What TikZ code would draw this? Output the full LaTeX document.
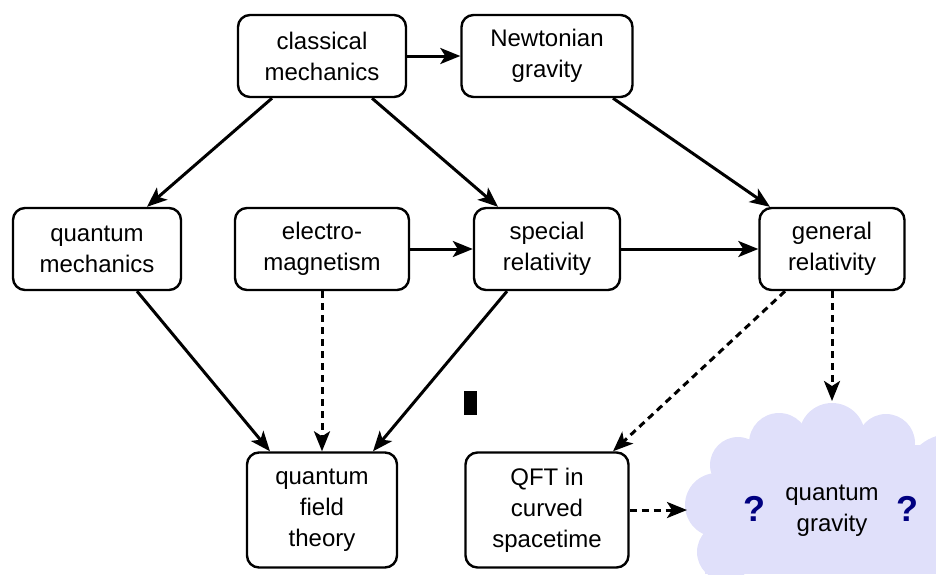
\documentclass[tikz,border=0pt]{standalone}
\usepackage{fontspec}
\setmainfont{Liberation Sans}
\usetikzlibrary{arrows.meta}
\definecolor{cloudfill}{RGB}{224,224,250}
\definecolor{qmark}{RGB}{0,0,128}
\begin{document}
\begin{tikzpicture}[x=1pt,y=-1pt,
  box/.style={draw=black,line width=2.4pt,rounded corners=12pt,fill=white,
    align=center,inner sep=0pt,font=\fontsize{24}{31}\selectfont},
  conn/.style={line width=3pt,-{Stealth[length=20pt,width=16pt,inset=5pt]}},
  dconn/.style={conn,dash pattern=on 7pt off 5pt},
  qm/.style={text=qmark,font=\fontsize{36}{40}\selectfont\bfseries,inner sep=0pt},
  lbl/.style={align=center,inner sep=0pt,font=\fontsize{24}{31}\selectfont}]
\useasboundingbox (0,0) rectangle (936,574);
% cloud
\begin{scope}
\clip (0,0) rectangle (936,574);
\fill[cloudfill] (832,436) circle[radius=33];
\fill[cloudfill] (779,443) circle[radius=30];
\fill[cloudfill] (886,443) circle[radius=29];
\fill[cloudfill] (950,480) circle[radius=46];
\fill[cloudfill] (738,465) circle[radius=28];
\fill[cloudfill] (717,505) circle[radius=32];
\fill[cloudfill] (726,552) circle[radius=29];
\fill[cloudfill] (740,445) rectangle (936,574);
\fill[cloudfill] (705,480) rectangle (745,574);
\end{scope}
\coordinate (qgtop) at (832,401);
\coordinate (qgleft) at (687,510);
\node[lbl] (qg) at (832,511) {quantum\\gravity};
\node[qm] (q1) at (754,509) {?};
\node[qm] (q2) at (907,509) {?};
% boxes
\node[box,minimum width=168pt,minimum height=82pt] (cm) at (322,56) {classical\\mechanics};
\node[box,minimum width=171pt,minimum height=82pt] (ng) at (547,56) {Newtonian\\gravity};
\node[box,minimum width=168pt,minimum height=82pt] (qmech) at (97,249) {quantum\\mechanics};
\node[box,minimum width=174pt,minimum height=82pt] (em) at (322,249) {electro-\\magnetism};
\node[box,minimum width=146pt,minimum height=82pt] (sr) at (547,249) {special\\relativity};
\node[box,minimum width=145pt,minimum height=82pt] (gr) at (832,249) {general\\relativity};
\node[box,minimum width=150pt,minimum height=115pt] (qft) at (322,510) {quantum\\field\\theory};
\node[box,minimum width=163pt,minimum height=115pt] (qftc) at (547,510) {QFT in\\curved\\spacetime};
% black mark
\node[fill=black,inner sep=0pt,minimum width=13pt,minimum height=24pt] (mark) at (470.5,403) {};
% connectors
\draw[conn] (cm.east) -- (ng.west);
\draw[conn] ([xshift=-50pt]cm.south) -- ([xshift=50pt]qmech.north);
\draw[conn] ([xshift=50pt]cm.south) -- ([xshift=-49pt]sr.north);
\draw[conn] ([xshift=66pt]ng.south) -- ([xshift=-62pt]gr.north);
\draw[conn] (em.east) -- (sr.west);
\draw[conn] (sr.east) -- (gr.west);
\draw[conn] ([xshift=40pt]qmech.south) -- ([xshift=-52pt]qft.north);
\draw[conn] ([xshift=-40pt]sr.south) -- ([xshift=51pt]qft.north);
\draw[dconn] (em.south) -- (qft.north);
\draw[dconn] ([xshift=-47pt]gr.south) -- ([xshift=66pt]qftc.north);
\draw[dconn] (gr.south) -- (qgtop);
\draw[dconn] (qftc.east) -- (qgleft);
\end{tikzpicture}
\end{document}
